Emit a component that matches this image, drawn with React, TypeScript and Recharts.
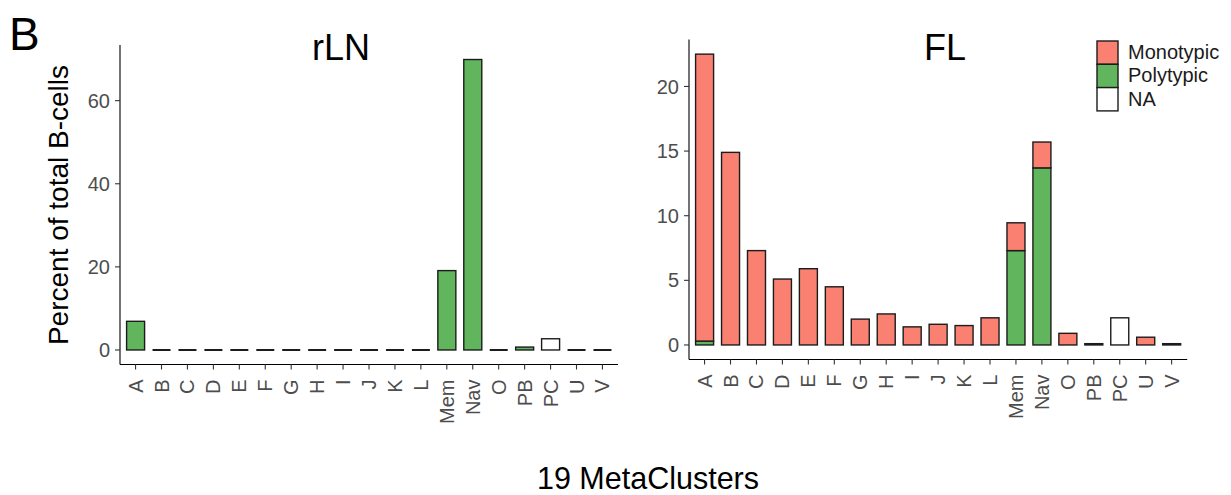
import React from 'react';
import { BarChart, Bar, XAxis, YAxis, Legend } from 'recharts';

const clusters = ['A', 'B', 'C', 'D', 'E', 'F', 'G', 'H', 'I', 'J', 'K', 'L', 'Mem', 'Nav', 'O', 'PB', 'PC', 'U', 'V'];

// rLN: percent of total B-cells per metacluster
const rlnMonotypic = [null, null, null, null, null, null, null, null, null, null, null, null, null, null, null, null, null, null, null];
const rlnPolytypic = [6.9, 0, 0, 0, 0, 0, 0, 0, 0, 0, 0, 0, 19.1, 69.9, 0, 0.7, null, 0, 0];
const rlnNA = [null, null, null, null, null, null, null, null, null, null, null, null, null, null, null, null, 2.7, null, null];

// FL: percent of total B-cells per metacluster
const flMonotypic = [22.2, 14.9, 7.3, 5.1, 5.9, 4.5, 2.0, 2.4, 1.4, 1.6, 1.5, 2.1, 2.15, 2.0, 0.9, null, null, 0.6, 0.1];
const flPolytypic = [0.3, null, null, null, null, null, null, null, null, null, null, null, 7.3, 13.7, null, 0.1, null, null, null];
const flNA = [null, null, null, null, null, null, null, null, null, null, null, null, null, null, null, null, 2.1, null, null];

const rlnTicks = [0, 20, 40, 60];
const flTicks = [0, 5, 10, 15, 20];

const legendItems = ['Monotypic', 'Polytypic', 'NA'];

const COLORS: Record<string, string> = {
  Monotypic: '#FA8072',
  Polytypic: '#61B65D',
  NA: '#FFFFFF',
};
const OUTLINE = '#1c1c1c';
const FONT = '"Liberation Sans", Arial, Helvetica, sans-serif';

type Row = { cluster: string; Monotypic: number | null; Polytypic: number | null; NA: number | null };

const buildRows = (mono: (number | null)[], poly: (number | null)[], na: (number | null)[]): Row[] =>
  clusters.map((c, i) => ({ cluster: c, Monotypic: mono[i], Polytypic: poly[i], NA: na[i] }));

const rlnRows = buildRows(rlnMonotypic, rlnPolytypic, rlnNA);
const flRows = buildRows(flMonotypic, flPolytypic, flNA);

// ggplot-style continuous expansion: 5% of the range on each side
const expandedDomain = (rows: Row[]): [number, number] => {
  const max = Math.max(...rows.map((r) => (r.Monotypic ?? 0) + (r.Polytypic ?? 0) + (r.NA ?? 0)));
  const pad = max * 0.05;
  return [-pad, max + pad];
};

// outlined rect; an explicit zero is drawn as a flat dash on the baseline
const makeShape = (key: keyof Row) => (props: any) => {
  const { x, y, width, height, fill, payload } = props;
  const v = payload?.[key];
  if (v == null) return <g />;
  if (v === 0) {
    return <line x1={x} x2={x + width} y1={y} y2={y} stroke={OUTLINE} strokeWidth={2} />;
  }
  return <rect x={x} y={y} width={width} height={height} fill={fill} stroke={OUTLINE} strokeWidth={1.4} />;
};

const ClusterTick = (props: any) => {
  const { x, y, payload } = props;
  return (
    <g transform={`translate(${x},${y})`}>
      <text transform="rotate(-90)" textAnchor="end" dy="0.35em" fill="#4D4D4D" fontSize={20} fontFamily={FONT}>
        {payload.value}
      </text>
    </g>
  );
};

const LegendKeys = () => (
  <svg width={135} height={72}>
    {legendItems.map((item, i) => (
      <g key={item}>
        <rect x={1} y={1 + i * 23.3} width={21} height={23.3} fill={COLORS[item]} stroke={OUTLINE} strokeWidth={1.4} />
        <text x={32} y={12 + i * 23.3} dy="0.35em" fontSize={20} fontFamily={FONT} fill="#1a1a1a">
          {item}
        </text>
      </g>
    ))}
  </svg>
);

interface PanelProps {
  rows: Row[];
  ticks: number[];
  width: number;
  height: number;
  margin: { top: number; right: number; bottom: number; left: number };
  yAxisWidth: number;
  showLegend?: boolean;
}

const Panel: React.FC<PanelProps> = ({ rows, ticks, width, height, margin, yAxisWidth, showLegend }) => {
  const plotWidth = width - margin.left - margin.right - yAxisWidth;
  const step = plotWidth / 19.2;
  const pad = step * 0.1;
  return (
    <BarChart width={width} height={height} data={rows} margin={margin}>
      <XAxis
        dataKey="cluster"
        interval={0}
        tick={<ClusterTick />}
        tickSize={5}
        tickMargin={10}
        padding={{ left: pad, right: pad }}
        axisLine={{ stroke: '#000', strokeWidth: 1.1 }}
        tickLine={{ stroke: '#333', strokeWidth: 1.1 }}
        height={60}
      />
      <YAxis
        type="number"
        domain={expandedDomain(rows)}
        ticks={ticks}
        allowDataOverflow
        width={yAxisWidth}
        tickSize={5}
        tickMargin={5}
        tick={{ fill: '#4D4D4D', fontSize: 20, fontFamily: FONT }}
        axisLine={{ stroke: '#000', strokeWidth: 1.1 }}
        tickLine={{ stroke: '#333', strokeWidth: 1.1 }}
      />
      {showLegend && (
        <Legend
          layout="vertical"
          align="center"
          verticalAlign="middle"
          content={<LegendKeys />}
          wrapperStyle={{ left: 466, top: 40, width: 135, height: 72 }}
        />
      )}
      <Bar dataKey="Polytypic" stackId="s" fill={COLORS.Polytypic} barSize={18} shape={makeShape('Polytypic')} isAnimationActive={false} />
      <Bar dataKey="Monotypic" stackId="s" fill={COLORS.Monotypic} barSize={18} shape={makeShape('Monotypic')} isAnimationActive={false} />
      <Bar dataKey="NA" stackId="s" fill={COLORS.NA} barSize={18} shape={makeShape('NA')} isAnimationActive={false} />
    </BarChart>
  );
};

const App: React.FC = () => {
  return (
    <div style={{ position: 'absolute', left: 0, top: 0, width: 1231, height: 495, background: '#fff', fontFamily: FONT }}>
      <div style={{ position: 'absolute', left: 0, top: 0 }}>
        <Panel
          rows={rlnRows}
          ticks={rlnTicks}
          width={640}
          height={430}
          margin={{ top: 45, right: 22, bottom: 5.5, left: 60 }}
          yAxisWidth={60}
        />
      </div>
      <div style={{ position: 'absolute', left: 630, top: 0 }}>
        <Panel
          rows={flRows}
          ticks={flTicks}
          width={601}
          height={430}
          margin={{ top: 39.6, right: 43.8, bottom: 10.5, left: 9 }}
          yAxisWidth={50}
          showLegend
        />
      </div>
      <svg
        width={1231}
        height={495}
        style={{ position: 'absolute', left: 0, top: 0, pointerEvents: 'none' }}
        fontFamily={FONT}
      >
        <text x={9} y={50} fontSize={46} fill="#000">B</text>
        <text x={341} y={60} fontSize={36} textAnchor="middle" fill="#000">rLN</text>
        <text x={945} y={60} fontSize={36} textAnchor="middle" fill="#000">FL</text>
        <text transform="translate(68,205) rotate(-90)" fontSize={28} textAnchor="middle" fill="#000">
          Percent of total B-cells
        </text>
        <text x={648} y={489} fontSize={30.5} textAnchor="middle" fill="#000">19 MetaClusters</text>
      </svg>
    </div>
  );
};

export default App;
